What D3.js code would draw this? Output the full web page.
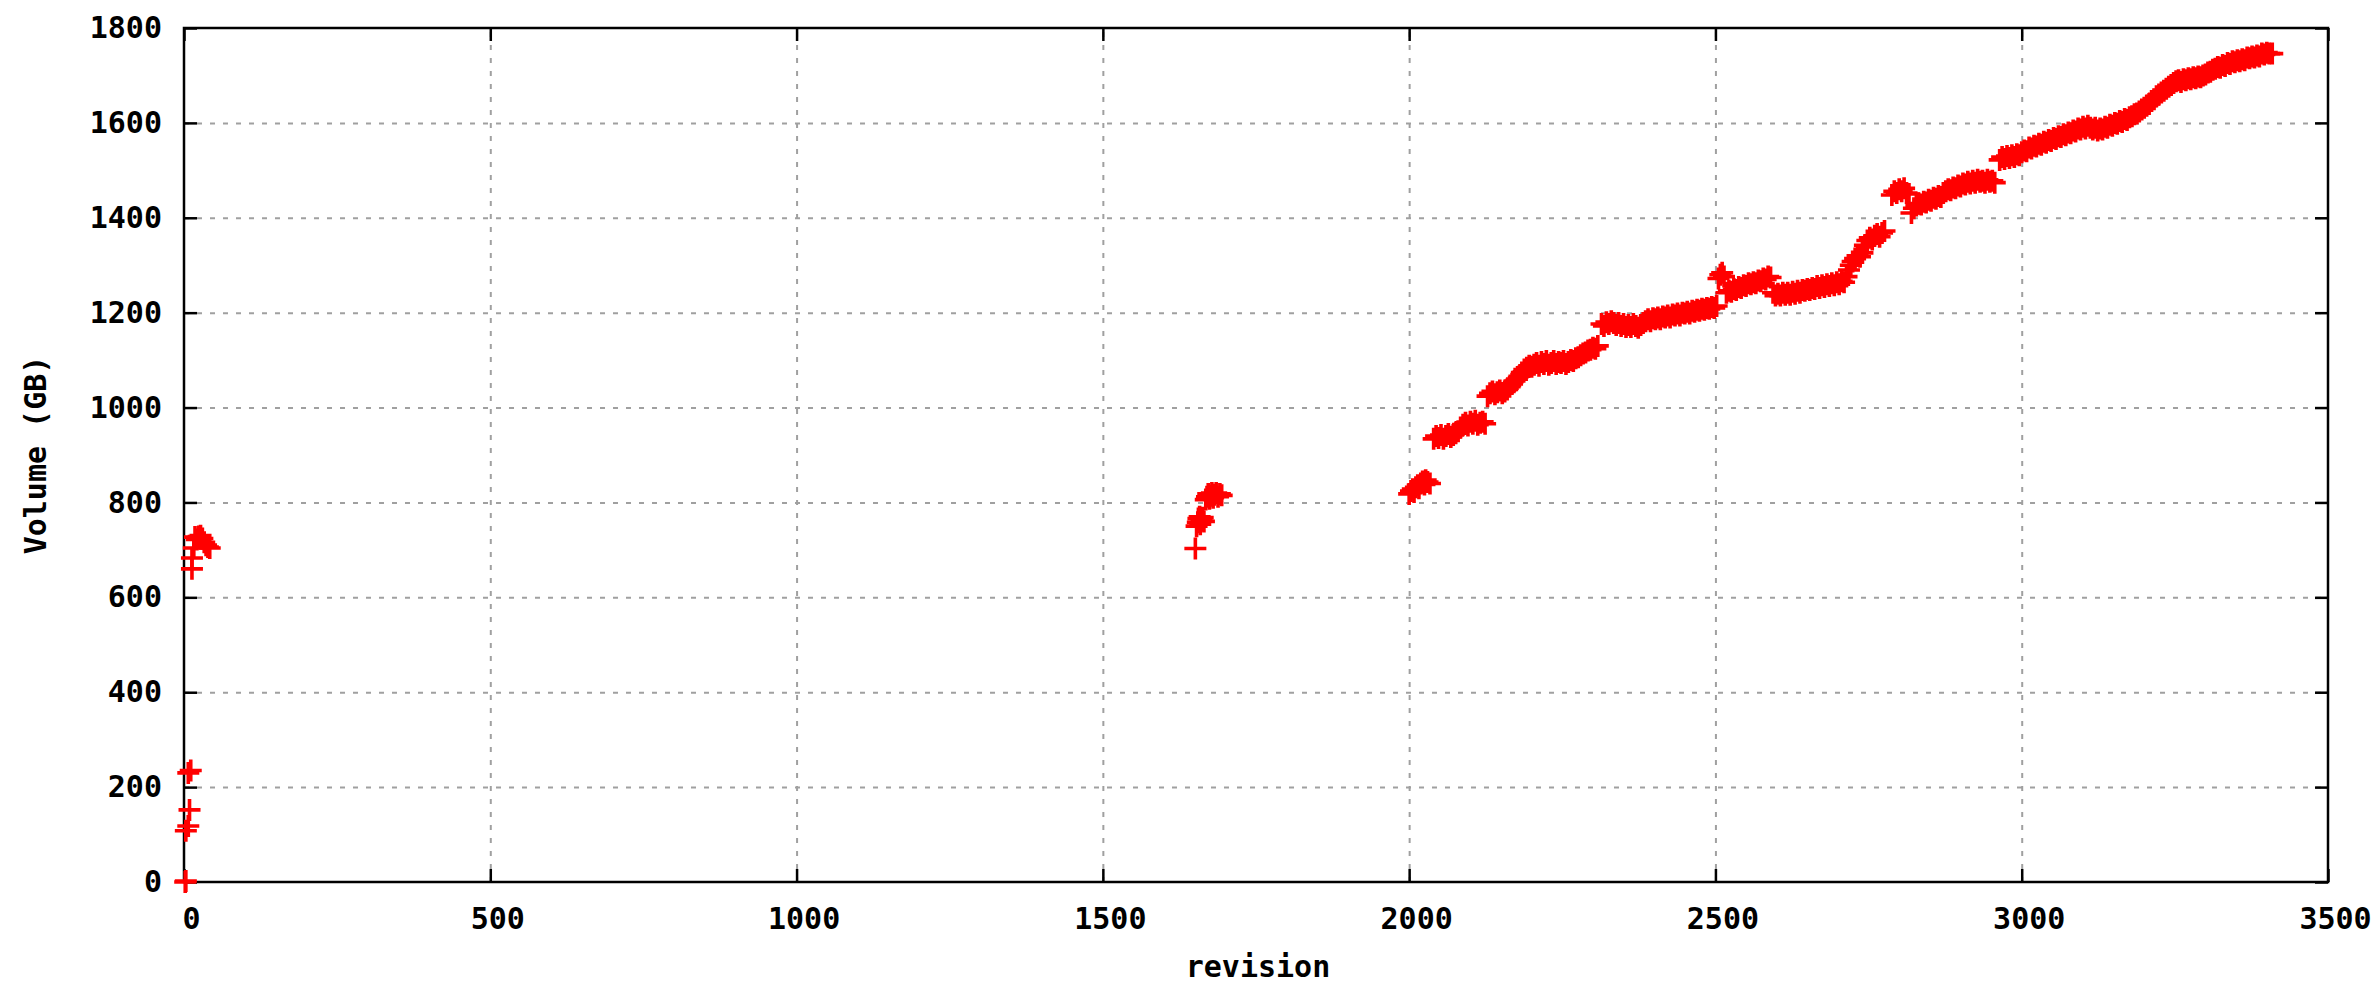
<!DOCTYPE html>
<html>
<head>
<meta charset="utf-8">
<script src="https://cdn.jsdelivr.net/npm/d3@7"></script>
<style>
  body { margin: 0; background: #fff; }
  text { font-family: "DejaVu Sans Mono", monospace; font-weight: bold; fill: #000; }
</style>
</head>
<body>
<svg id="chart"></svg>
<script>
// [revision, volume in GB]
const firstImport = [
  [3, 2], [2, 0], [3, 108], [7, 118], [9, 152], [7, 230], [11, 235],
  [13, 660], [13, 683], [16, 704], [18, 727], [21, 722], [24, 728], [27, 730],
  [30, 724], [33, 716], [36, 710], [39, 706], [42, 704]
];
const rev1650 = [
  [1651, 703], [1653, 750], [1655, 758], [1656, 766], [1658, 770], [1659, 754], [1661, 762],
  [1663, 768], [1665, 760], [1668, 806], [1670, 812], [1672, 818], [1674, 808], [1676, 814],
  [1678, 820], [1680, 810], [1682, 816], [1685, 820], [1688, 812], [1691, 818], [1694, 815]
];
const rev2000 = [
  [2000, 818], [2003, 824], [2006, 828], [2008, 822], [2011, 832], [2014, 836], [2016, 830],
  [2019, 840], [2022, 844], [2025, 838], [2027, 847], [2030, 843], [2034, 840],
  [2040, 934], [2044, 940], [2048, 936], [2052, 942], [2056, 934], [2060, 940], [2064, 944],
  [2068, 938], [2072, 942], [2076, 946], [2080, 950],
  [2084, 958], [2088, 964], [2092, 968], [2096, 962], [2100, 970], [2104, 966], [2108, 972],
  [2112, 964], [2116, 968], [2120, 970], [2124, 966],
  [2128, 1024], [2132, 1030], [2136, 1034], [2140, 1028], [2144, 1032], [2148, 1036], [2152, 1030],
  [2156, 1034], [2160, 1038],
  [2164, 1044], [2168, 1050], [2172, 1056], [2176, 1060], [2180, 1066], [2184, 1074], [2188, 1080],
  [2192, 1084], [2196, 1088], [2200, 1086],
  [2204, 1090], [2208, 1094], [2212, 1088], [2216, 1096], [2220, 1092], [2224, 1098], [2228, 1090],
  [2232, 1094], [2236, 1098], [2240, 1092], [2244, 1096], [2248, 1094], [2252, 1098], [2256, 1092],
  [2260, 1096], [2264, 1100], [2268, 1098], [2272, 1104],
  [2276, 1106], [2280, 1110], [2284, 1114], [2288, 1116], [2292, 1120], [2296, 1122], [2300, 1126],
  [2304, 1124], [2308, 1130],
  [2314, 1176], [2318, 1172], [2322, 1180], [2326, 1176], [2330, 1182], [2334, 1178], [2338, 1174],
  [2342, 1178], [2346, 1172], [2350, 1176], [2354, 1170], [2358, 1174], [2362, 1170], [2366, 1176],
  [2370, 1172], [2374, 1168], [2378, 1174], [2382, 1178],
  [2386, 1182], [2390, 1186], [2394, 1182], [2398, 1188], [2402, 1186], [2406, 1190], [2410, 1186],
  [2414, 1192], [2418, 1190], [2422, 1194], [2426, 1190], [2430, 1196], [2434, 1194], [2438, 1198],
  [2442, 1194], [2446, 1200], [2450, 1198], [2454, 1202], [2458, 1198], [2462, 1204], [2466, 1202],
  [2470, 1206], [2474, 1204], [2478, 1208], [2482, 1206], [2486, 1210], [2490, 1208], [2494, 1212],
  [2498, 1210], [2502, 1214]
];
const rev2500 = [
  [2505, 1272], [2508, 1280], [2511, 1284], [2514, 1276],
  [2518, 1242], [2522, 1246], [2526, 1244], [2530, 1250], [2534, 1248], [2538, 1254], [2542, 1252],
  [2546, 1258], [2550, 1256], [2554, 1262], [2558, 1260], [2562, 1264], [2566, 1262], [2570, 1268],
  [2574, 1266], [2578, 1272], [2582, 1270], [2586, 1276], [2590, 1274],
  [2594, 1242], [2598, 1236], [2602, 1240], [2606, 1236], [2610, 1242], [2614, 1238], [2618, 1242],
  [2622, 1238], [2626, 1244], [2630, 1240], [2634, 1246], [2638, 1242], [2642, 1248], [2646, 1246],
  [2650, 1250], [2654, 1248], [2658, 1252], [2662, 1250], [2666, 1256], [2670, 1252], [2674, 1258],
  [2678, 1254], [2682, 1260], [2686, 1256], [2690, 1262], [2694, 1258], [2698, 1264], [2702, 1260],
  [2706, 1266], [2710, 1264],
  [2714, 1276], [2718, 1290], [2721, 1300], [2724, 1308], [2728, 1314], [2732, 1320], [2736, 1318],
  [2740, 1326],
  [2744, 1342], [2748, 1352], [2752, 1358], [2756, 1354], [2760, 1362], [2764, 1366], [2768, 1360],
  [2772, 1368], [2776, 1372],
  [2788, 1448], [2792, 1456], [2796, 1452], [2800, 1460], [2804, 1456], [2808, 1462], [2812, 1452],
  [2816, 1450],
  [2820, 1410], [2824, 1420], [2828, 1426], [2832, 1430], [2836, 1428], [2840, 1434], [2844, 1432],
  [2848, 1438], [2852, 1436], [2856, 1442], [2860, 1440], [2864, 1446], [2868, 1444], [2872, 1452],
  [2876, 1456], [2880, 1460], [2884, 1458], [2888, 1464], [2892, 1462], [2896, 1468], [2900, 1466],
  [2904, 1472], [2908, 1470], [2912, 1476], [2916, 1472], [2920, 1478], [2924, 1474], [2928, 1480],
  [2932, 1476], [2936, 1478], [2940, 1474], [2944, 1480], [2948, 1476], [2952, 1478], [2956, 1474],
  [2964, 1522], [2968, 1528], [2972, 1524], [2976, 1530], [2980, 1526], [2984, 1532], [2988, 1528],
  [2992, 1534], [2996, 1532]
];
const rev3000 = [
  [3000, 1538], [3004, 1542], [3008, 1540], [3012, 1548], [3016, 1546], [3020, 1552], [3024, 1550],
  [3028, 1556], [3032, 1554], [3036, 1560], [3040, 1558], [3044, 1564], [3048, 1562], [3052, 1568],
  [3056, 1566], [3060, 1572], [3064, 1570], [3068, 1576], [3072, 1574], [3076, 1580], [3080, 1578],
  [3084, 1584], [3088, 1582], [3092, 1588], [3096, 1586], [3100, 1592], [3104, 1588], [3108, 1594],
  [3112, 1590], [3116, 1586], [3120, 1590], [3124, 1584], [3128, 1588], [3132, 1586], [3136, 1592],
  [3140, 1590], [3144, 1596], [3148, 1594], [3152, 1600], [3156, 1598], [3160, 1604], [3164, 1602],
  [3168, 1608], [3172, 1606], [3176, 1612], [3180, 1614], [3184, 1618], [3188, 1620], [3192, 1624],
  [3196, 1628], [3200, 1632], [3204, 1636], [3208, 1640], [3212, 1646], [3216, 1650], [3220, 1656],
  [3224, 1660], [3228, 1664], [3232, 1668], [3236, 1672], [3240, 1676], [3244, 1680], [3248, 1684],
  [3252, 1688], [3256, 1690], [3260, 1686], [3264, 1692], [3268, 1690], [3272, 1694], [3276, 1692],
  [3280, 1696], [3284, 1694], [3288, 1698], [3292, 1696], [3296, 1700], [3300, 1702], [3304, 1706],
  [3308, 1708], [3312, 1712], [3316, 1714], [3320, 1718], [3324, 1716], [3328, 1722], [3332, 1720],
  [3336, 1726], [3340, 1724], [3344, 1730], [3348, 1728], [3352, 1732], [3356, 1730], [3360, 1734],
  [3364, 1732], [3368, 1738], [3372, 1736], [3376, 1740], [3380, 1738], [3384, 1742], [3388, 1740],
  [3392, 1746], [3396, 1744], [3400, 1748], [3404, 1746], [3409, 1746]
];

const xTicks = [0, 500, 1000, 1500, 2000, 2500, 3000, 3500];
const yTicks = [0, 200, 400, 600, 800, 1000, 1200, 1400, 1600, 1800];

const width = 2378;
const height = 988;
const margin = { top: 28, right: 50, bottom: 106, left: 184 };

const svg = d3.select("#chart")
    .attr("width", width)
    .attr("height", height);

const x = d3.scaleLinear().domain([0, 3500]).range([margin.left, width - margin.right]);
const y = d3.scaleLinear().domain([0, 1800]).range([height - margin.bottom, margin.top]);

const plotW = x.range()[1] - x.range()[0];
const plotH = y.range()[0] - y.range()[1];

// dotted grid
const grid = svg.append("g").attr("class", "grid");
grid.append("g")
    .attr("transform", `translate(0,${y(0)})`)
    .call(d3.axisBottom(x).tickValues(xTicks.slice(1, -1)).tickSize(-plotH).tickFormat(""));
grid.append("g")
    .attr("transform", `translate(${x(0)},0)`)
    .call(d3.axisLeft(y).tickValues(yTicks.slice(1, -1)).tickSize(-plotW).tickFormat(""));
grid.selectAll(".domain").remove();
grid.selectAll("line")
    .attr("stroke", "#a0a0a0")
    .attr("stroke-width", 2)
    .attr("stroke-dasharray", "5,8");

// ticks on all four sides, pointing inward
const tick = 13;
const fmt = d3.format("d");
const xAxis = svg.append("g")
    .attr("transform", `translate(0,${y(0)})`)
    .call(d3.axisBottom(x).tickValues(xTicks).tickSize(-tick).tickPadding(26).tickFormat(fmt));
const yAxis = svg.append("g")
    .attr("transform", `translate(${x(0)},0)`)
    .call(d3.axisLeft(y).tickValues(yTicks).tickSize(-tick).tickPadding(22).tickFormat(fmt));
svg.append("g")
    .attr("transform", `translate(0,${y(1800)})`)
    .call(d3.axisTop(x).tickValues(xTicks).tickSize(-tick).tickFormat(""));
svg.append("g")
    .attr("transform", `translate(${x(3500)},0)`)
    .call(d3.axisRight(y).tickValues(yTicks).tickSize(-tick).tickFormat(""));

svg.selectAll(".domain").remove();
svg.selectAll(".tick line").filter(function() { return !this.closest(".grid"); })
    .attr("stroke", "#000")
    .attr("stroke-width", 2.5);
svg.selectAll(".tick text")
    .style("font-size", "30px")
    .style("font-family", "'DejaVu Sans Mono', monospace")
    .style("font-weight", "bold");
xAxis.selectAll(".tick text").attr("dx", 7);

// frame
svg.append("rect")
    .attr("x", x(0))
    .attr("y", y(1800))
    .attr("width", plotW)
    .attr("height", plotH)
    .attr("fill", "none")
    .attr("stroke", "#000")
    .attr("stroke-width", 2.5);

// data points as "+" markers
const points = [].concat(firstImport, rev1650, rev2000, rev2500, rev3000);
const arm = 11;
svg.append("g")
    .selectAll("path")
    .data(points)
    .enter().append("path")
    .attr("d", d => {
        const px = x(d[0]), py = y(d[1]);
        return `M${px - arm},${py}H${px + arm}M${px},${py - arm}V${py + arm}`;
    })
    .attr("stroke", "#ff0000")
    .attr("stroke-width", 3.6)
    .attr("fill", "none");

// axis titles
svg.append("text")
    .attr("x", (x(0) + x(3500)) / 2 + 2)
    .attr("y", 977)
    .attr("text-anchor", "middle")
    .style("font-size", "30px")
    .text("revision");

svg.append("text")
    .attr("transform", `translate(46,${(y(0) + y(1800)) / 2}) rotate(-90)`)
    .attr("text-anchor", "middle")
    .style("font-size", "30px")
    .text("Volume (GB)");
</script>
</body>
</html>
